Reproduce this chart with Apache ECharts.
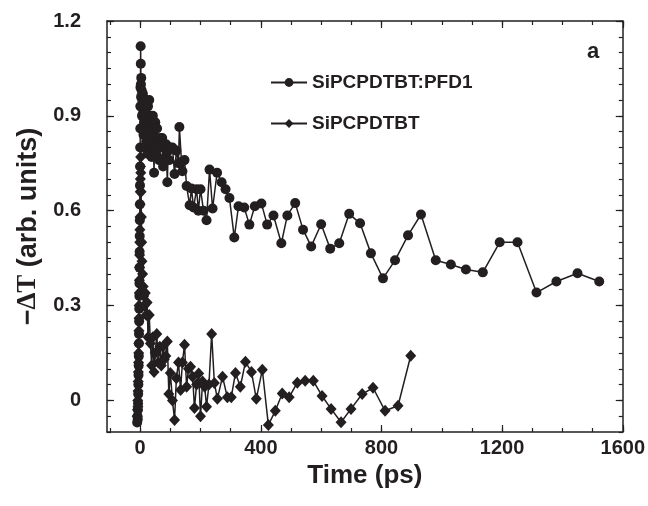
<!DOCTYPE html>
<html>
<head>
<meta charset="utf-8">
<script src="https://cdn.jsdelivr.net/npm/echarts@6/dist/echarts.min.js"></script>
<style>html,body{margin:0;padding:0;background:#fff}#c{width:648px;height:506px}</style>
</head>
<body>
<div id="c"></div>
<script>
// ---- data ----
const pfdTime = [-10,-9,-8,-7.5,-7,-6.5,-6,-5.5,-5,-4.6,-4.2,-3.8,-3.4,-3,-2.7,-2.4,-2.1,-1.8,-1.5,-1.2,-0.9,-0.6,-0.3,0,0.3,0.6,1,1.5,2,2.5,3,3.5,4,5,6,7,8,9,10,11,12,13,14,15,16,18,20,22,24,26,28,30,32,34,36,38,40,42,44,46,48,50,53,56,60,63,66,70,73,76,80,83,86,90,93,96,100,107,114,120,127,130,137,140,147,154,164,170,177,187,193,200,210,220,230,240,255,270,283,296,312,326,345,362,380,402,421,442,468,488,514,540,567,600,630,660,693,729,765,805,845,888,931,980,1030,1080,1136,1192,1251,1314,1380,1450,1522];
const pfdValue = [-0.07,-0.05,-0.06,-0.03,-0.01,0.02,0.05,0.08,0.11,0.14,0.18,0.21,0.25,0.29,0.33,0.37,0.42,0.47,0.52,0.57,0.62,0.68,0.74,0.80,0.86,0.93,0.99,1.12,1.065,1.0,0.96,1.02,0.93,0.98,0.90,0.95,0.86,0.97,0.91,0.84,0.94,0.88,0.80,0.92,0.86,0.95,0.82,0.90,0.78,0.93,0.85,0.95,0.80,0.90,0.84,0.77,0.88,0.90,0.80,0.72,0.87,0.88,0.78,0.86,0.82,0.76,0.83,0.80,0.83,0.74,0.80,0.77,0.81,0.69,0.79,0.76,0.80,0.80,0.716,0.79,0.75,0.865,0.754,0.725,0.76,0.678,0.617,0.67,0.61,0.668,0.60,0.668,0.60,0.57,0.73,0.607,0.72,0.69,0.668,0.64,0.515,0.614,0.61,0.556,0.614,0.623,0.556,0.585,0.497,0.585,0.624,0.54,0.487,0.557,0.48,0.497,0.59,0.56,0.465,0.386,0.443,0.522,0.588,0.443,0.43,0.414,0.405,0.5,0.5,0.341,0.376,0.402,0.376];

const pureTime = [-10,-9,-8,-7.5,-7,-6.5,-6,-5.5,-5,-4.6,-4.2,-3.8,-3.4,-3,-2.6,-2.2,-1.8,-1.4,-1,-0.6,-0.2,0.2,0.6,1,1.5,2,3,4,5,6,8,10,12,14,17,20,23,26,30,34,38,42,46,50,55,60,65,70,75,80,85,90,95,100,107,114,120,127,134,140,147,154,160,167,174,180,187,194,200,207,214,220,228,237,246,256,273,289,302,316,332,349,369,385,405,425,448,471,494,521,547,574,603,633,666,699,736,772,812,855,897];
const pureValue = [-0.05,-0.03,0.0,-0.02,0.03,0.06,0.09,0.12,0.15,0.18,0.22,0.26,0.30,0.34,0.38,0.42,0.46,0.50,0.54,0.58,0.62,0.66,0.70,0.74,0.77,0.72,0.66,0.58,0.50,0.44,0.40,0.36,0.33,0.30,0.34,0.27,0.31,0.20,0.27,0.18,0.11,0.20,0.09,0.15,0.21,0.12,0.17,0.11,0.17,0.13,0.14,0.186,0.02,0.087,0.0,-0.062,0.07,0.12,0.033,0.12,0.176,0.043,0.10,0.106,0.075,-0.024,0.05,0.085,-0.05,0.06,0.043,-0.02,0.05,0.21,0.055,0.005,0.075,0.01,0.01,0.087,0.043,0.122,0.09,0.005,0.097,-0.078,-0.033,0.022,0.01,0.056,0.062,0.062,0.014,-0.027,-0.069,-0.027,0.02,0.04,-0.033,-0.017,0.141];

const seriesNames = ['SiPCPDTBT:PFD1', 'SiPCPDTBT'];
const xMajorTicks = [0,400,800,1200,1600];
const xMinorTicks = [-100,0,100,200,300,400,500,600,700,800,900,1000,1100,1200,1300,1400,1500,1600];
const yMajorTicks = [0,0.3,0.6,0.9,1.2];
const yMinorTicks = [-0.1,-0.05,0,0.05,0.1,0.15,0.2,0.25,0.3,0.35,0.4,0.45,0.5,0.55,0.6,0.65,0.7,0.75,0.8,0.85,0.9,0.95,1.0,1.05,1.1,1.15,1.2];
const xTitle = 'Time (ps)';
const panelLabel = 'a';

// ---- chart ----
const INK = '#231f20';
const FONT = "'Liberation Sans',Arial,Helvetica,sans-serif";
const X_MIN = -110, X_MAX = 1600, Y_MIN = -0.1, Y_MAX = 1.2;

function xAx(pos, ticks, len, showLabel, showLine, extra) {
  return Object.assign({
    type: 'value', position: pos, min: X_MIN, max: X_MAX, gridIndex: 0,
    axisLine: {show: showLine, onZero: false, lineStyle: {color: INK, width: 1.5}},
    axisTick: {show: true, inside: true, length: len, customValues: ticks, lineStyle: {color: INK, width: 1.2}},
    axisLabel: {show: showLabel, customValues: xMajorTicks, color: INK, fontFamily: FONT, fontWeight: 'bold', fontSize: 20, margin: 6,
      formatter: v => String(Math.round(v))},
    splitLine: {show: false}
  }, extra || {});
}
function yAx(pos, ticks, len, showLabel, showLine, extra) {
  return Object.assign({
    type: 'value', position: pos, min: Y_MIN, max: Y_MAX, gridIndex: 0,
    axisLine: {show: showLine, onZero: false, lineStyle: {color: INK, width: 1.5}},
    axisTick: {show: true, inside: true, length: len, customValues: ticks, lineStyle: {color: INK, width: 1.2}},
    axisLabel: {show: showLabel, customValues: yMajorTicks, color: INK, fontFamily: FONT, fontWeight: 'bold', fontSize: 20, margin: 26,
      formatter: v => (Math.abs(v) < 1e-9 ? '0' : v.toFixed(1))},
    splitLine: {show: false}
  }, extra || {});
}

const chart = echarts.init(document.getElementById('c'), null, {renderer: 'canvas'});
chart.setOption({
  animation: false,
  backgroundColor: '#fff',
  grid: {left: 107, right: 23, top: 21, bottom: 74, containLabel: false},
  title: {text: panelLabel, left: 582, top: 36, textStyle: {color: INK, fontFamily: FONT, fontWeight: 'bold', fontSize: 22}},
  legend: {
    orient: 'vertical', left: 265, top: 68, itemWidth: 36, itemHeight: 11, itemGap: 22,
    data: seriesNames,
    textStyle: {color: INK, fontFamily: FONT, fontWeight: 'bold', fontSize: 19}
  },
  xAxis: [
    xAx('bottom', xMajorTicks, 7, true, true, {
      name: xTitle, nameLocation: 'middle', nameGap: 25,
      nameTextStyle: {color: INK, fontFamily: FONT, fontWeight: 'bold', fontSize: 26}
    }),
    xAx('bottom', xMinorTicks, 4, false, false),
    xAx('top', xMajorTicks, 7, false, true),
    xAx('top', xMinorTicks, 4, false, false)
  ],
  yAxis: [
    yAx('left', yMajorTicks, 7, true, true, {
      name: '{a|−}{b|ΔT}{a| (arb. units)}', nameLocation: 'middle', nameGap: 65, nameRotate: 90,
      nameTextStyle: {rich: {
        a: {color: INK, fontFamily: FONT, fontWeight: 'bold', fontSize: 27},
        b: {color: INK, fontFamily: "'Liberation Serif','DejaVu Serif',serif", fontWeight: 'bold', fontSize: 27}
      }}
    }),
    yAx('left', yMinorTicks, 4, false, false),
    yAx('right', yMajorTicks, 7, false, true),
    yAx('right', yMinorTicks, 4, false, false)
  ],
  series: [
    {
      name: seriesNames[0], type: 'line', xAxisIndex: 0, yAxisIndex: 0,
      data: pfdTime.map((t, i) => [t, pfdValue[i]]),
      symbol: 'circle', symbolSize: 10, showAllSymbol: true,
      lineStyle: {color: INK, width: 1.5}, itemStyle: {color: INK, borderWidth: 0}
    },
    {
      name: seriesNames[1], type: 'line', xAxisIndex: 0, yAxisIndex: 0,
      data: pureTime.map((t, i) => [t, pureValue[i]]),
      symbol: 'diamond', symbolSize: [11, 12], showAllSymbol: true,
      lineStyle: {color: INK, width: 1.5}, itemStyle: {color: INK, borderWidth: 0}
    }
  ]
});
</script>
</body>
</html>
